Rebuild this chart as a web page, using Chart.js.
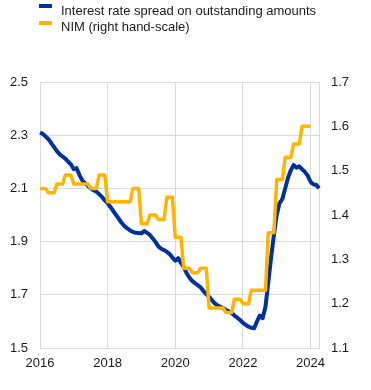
<!DOCTYPE html>
<html>
<head>
<meta charset="utf-8">
<script src="https://cdn.jsdelivr.net/npm/chart.js@4.4.1/dist/chart.umd.min.js"></script>
<style>
html,body{margin:0;padding:0;background:#fff;}
#wrap{width:371px;height:390px;position:relative;}
</style>
</head>
<body>
<div id="wrap"><canvas id="c"></canvas></div>
<script>
// Categories: monthly observations Jan 2016 - Apr 2024
const months = [];
for (let y = 2016; y <= 2024; y++) {
  for (let m = 1; m <= 12; m++) {
    if (y === 2024 && m > 4) break;
    months.push(y + '-' + String(m).padStart(2, '0'));
  }
}
const tickYears = ['2016', '2018', '2020', '2022', '2024'];
const leftTicks = [1.5, 1.7, 1.9, 2.1, 2.3, 2.5];
const rightTicks = [1.1, 1.2, 1.3, 1.4, 1.5, 1.6, 1.7];

const seriesLabels = ['Interest rate spread on outstanding amounts', 'NIM (right hand-scale)'];

// Interest rate spread on outstanding amounts (left scale), monthly
const spread = [
  2.31, 2.305, 2.295, 2.285, 2.27, 2.255, 2.24, 2.228, 2.22, 2.212, 2.20, 2.19,
  2.172, 2.176, 2.15, 2.13, 2.12, 2.11, 2.10, 2.093, 2.088, 2.078, 2.068, 2.055,
  2.045, 2.03, 2.015, 2.0, 1.985, 1.97, 1.958, 1.95, 1.942, 1.936, 1.933, 1.932,
  1.931, 1.94, 1.933, 1.925, 1.912, 1.898, 1.882, 1.873, 1.868, 1.862, 1.853, 1.84,
  1.828, 1.838, 1.82, 1.805, 1.782, 1.765, 1.752, 1.744, 1.736, 1.728, 1.714, 1.703,
  1.692, 1.68, 1.668, 1.66, 1.655, 1.65, 1.643, 1.638, 1.632, 1.622, 1.614, 1.605,
  1.595, 1.587, 1.58, 1.576, 1.574, 1.60, 1.622, 1.612, 1.655, 1.745, 1.84, 1.925,
  2.0, 2.045, 2.06, 2.10, 2.14, 2.168, 2.188, 2.178, 2.183, 2.172, 2.162, 2.148,
  2.125, 2.115, 2.114, 2.10
];

// NIM (right scale), quarterly values shown for each month
const nim = [
  1.46, 1.46, 1.46, 1.45, 1.45, 1.45, 1.47, 1.47, 1.47, 1.49, 1.49, 1.49,
  1.47, 1.47, 1.47, 1.47, 1.47, 1.47, 1.46, 1.46, 1.46, 1.49, 1.49, 1.49,
  1.43, 1.43, 1.43, 1.43, 1.43, 1.43, 1.43, 1.43, 1.43, 1.46, 1.46, 1.46,
  1.38, 1.38, 1.38, 1.40, 1.40, 1.40, 1.39, 1.39, 1.39, 1.44, 1.44, 1.44,
  1.35, 1.35, 1.35, 1.28, 1.28, 1.28, 1.27, 1.27, 1.27, 1.28, 1.28, 1.28,
  1.19, 1.19, 1.19, 1.19, 1.19, 1.19, 1.18, 1.18, 1.18, 1.21, 1.21, 1.21,
  1.20, 1.20, 1.20, 1.23, 1.23, 1.23, 1.23, 1.23, 1.23, 1.36, 1.36, 1.36,
  1.48, 1.48, 1.48, 1.53, 1.53, 1.53, 1.56, 1.56, 1.56, 1.60, 1.60, 1.60,
  1.60
];

const BLUE = '#003299';
const YELLOW = '#ffb400';
const GRID = '#d9d9d9';
const FONT = "'Liberation Sans', Arial, Helvetica, sans-serif";

Chart.defaults.font.family = FONT;
Chart.defaults.font.size = 13;
Chart.defaults.color = '#1a1a1a';

const legendPlugin = {
  id: 'refLegend',
  afterDraw(chart) {
    const ctx = chart.ctx;
    chart.data.datasets.forEach((ds, k) => {
      const dy = k * 16.5;
      ctx.save();
      ctx.fillStyle = ds.borderColor;
      ctx.fillRect(39, Math.round(4 + dy), 13, 4);
      ctx.fillStyle = '#1a1a1a';
      ctx.font = '13px ' + FONT;
      ctx.textBaseline = 'alphabetic';
      ctx.textAlign = 'left';
      ctx.fillText(ds.label, 61, Math.round(14.5 + dy));
      ctx.restore();
    });
  }
};

new Chart(document.getElementById('c'), {
  type: 'line',
  data: {
    labels: months,
    datasets: [
      {
        label: seriesLabels[0],
        data: spread,
        yAxisID: 'y',
        borderColor: BLUE,
        backgroundColor: BLUE,
        borderWidth: 4,
        pointRadius: 0,
        tension: 0,
        borderJoinStyle: 'round',
        order: 1
      },
      {
        label: seriesLabels[1],
        data: nim,
        yAxisID: 'y1',
        borderColor: YELLOW,
        backgroundColor: YELLOW,
        borderWidth: 3.5,
        pointRadius: 0,
        tension: 0,
        borderJoinStyle: 'round',
        order: 0
      }
    ]
  },
  options: {
    responsive: true,
    maintainAspectRatio: false,
    animation: false,
    layout: { padding: { top: 82, left: 0, right: 0, bottom: 0 } },
    plugins: {
      legend: { display: false },
      tooltip: { enabled: false }
    },
    scales: {
      x: {
        type: 'category',
        offset: false,
        grid: {
          drawTicks: false,
          lineWidth: 1,
          color: (c) => (c.tick && c.tick.label) ? GRID : 'rgba(0,0,0,0)'
        },
        border: { display: true, color: GRID },
        ticks: {
          autoSkip: false,
          maxRotation: 0,
          minRotation: 0,
          padding: 8,
          callback: (v, i) => {
            const m = months[i];
            const yr = m.slice(0, 4);
            return (m.endsWith('-01') && tickYears.includes(yr)) ? yr : '';
          }
        },
        afterFit: (s) => { s.height = 42; }
      },
      y: {
        position: 'left',
        min: leftTicks[0],
        max: leftTicks[leftTicks.length - 1],
        ticks: { stepSize: 0.2, padding: 12, callback: (v) => Number(v).toFixed(1) },
        grid: { color: GRID, drawTicks: false, lineWidth: 1 },
        border: { display: true, color: GRID },
        afterFit: (s) => { s.width = 40; }
      },
      y1: {
        position: 'right',
        min: rightTicks[0],
        max: rightTicks[rightTicks.length - 1],
        ticks: { stepSize: 0.1, padding: 12, callback: (v) => Number(v).toFixed(1) },
        grid: { display: false, drawTicks: false },
        border: { display: true, color: GRID },
        afterFit: (s) => { s.width = 52; }
      }
    }
  },
  plugins: [legendPlugin]
});
</script>
</body>
</html>
